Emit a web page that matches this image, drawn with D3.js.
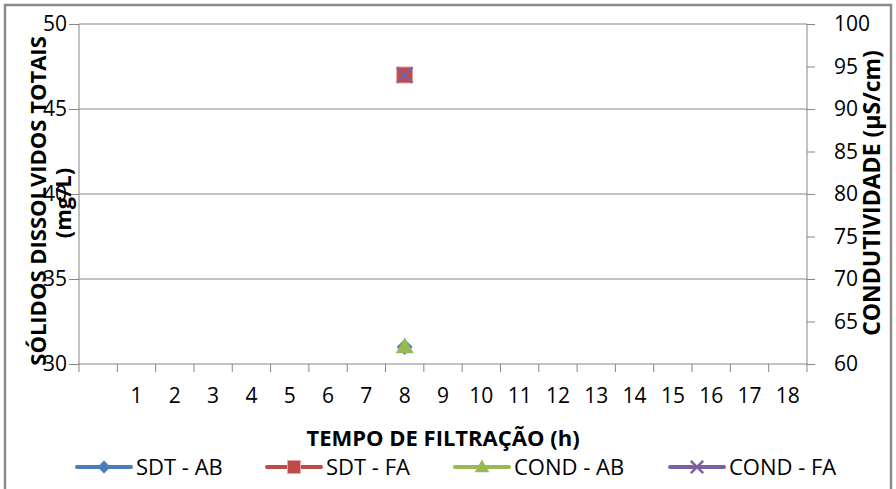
<!DOCTYPE html>
<html>
<head>
<meta charset="utf-8">
<script src="https://cdn.jsdelivr.net/npm/d3@7"></script>
<style>
  body { margin: 0; background: #fff; }
  text { font-family: "Open Sans", "Noto Sans", sans-serif; fill: #000; }
  .bold { font-weight: bold; }
</style>
</head>
<body>
<svg id="chart"></svg>
<script>
const width = 896;
const height = 489;

// hours (first category is blank)
const hours = ["", "1", "2", "3", "4", "5", "6", "7", "8", "9", "10", "11", "12", "13", "14", "15", "16", "17", "18"];

// values per hour, only the 8 h reading exists
const sdtAB  = [null, null, null, null, null, null, null, null, 31, null, null, null, null, null, null, null, null, null, null];
const sdtFA  = [null, null, null, null, null, null, null, null, 47, null, null, null, null, null, null, null, null, null, null];
const condAB = [null, null, null, null, null, null, null, null, 62, null, null, null, null, null, null, null, null, null, null];
const condFA = [null, null, null, null, null, null, null, null, 94, null, null, null, null, null, null, null, null, null, null];

const leftTicks = [30, 35, 40, 45, 50];
const rightTicks = [60, 65, 70, 75, 80, 85, 90, 95, 100];

const seriesNames = ["SDT - AB", "SDT - FA", "COND - AB", "COND - FA"];
const colors = ["#4a7ebb", "#be4b48", "#98b954", "#7d60a0"];

const plot = {left: 79, right: 807, top: 24, bottom: 364};

const svg = d3.select('#chart')
  .attr('width', width)
  .attr('height', height);

// outer chart border
svg.append('rect')
  .attr('x', 5).attr('y', 5)
  .attr('width', 886).attr('height', 495)
  .attr('fill', '#fff')
  .attr('stroke', '#8c8c8c')
  .attr('stroke-width', 2.5);

const xScale = d3.scaleBand()
  .domain(hours)
  .range([plot.left, plot.right]);

const yLeft = d3.scaleLinear()
  .domain([30, 50])
  .range([plot.bottom, plot.top]);

const yRight = d3.scaleLinear()
  .domain([60, 100])
  .range([plot.bottom, plot.top]);

// gridlines
svg.append('g')
  .selectAll('line')
  .data(leftTicks.slice(1))
  .enter()
  .append('line')
  .attr('x1', plot.left).attr('x2', plot.right)
  .attr('y1', d => yLeft(d)).attr('y2', d => yLeft(d))
  .attr('stroke', '#868686');

// left axis
const leftAxis = svg.append('g')
  .attr('transform', `translate(${plot.left}, 0)`)
  .call(d3.axisLeft(yLeft).tickValues(leftTicks).tickSize(10).tickPadding(2));

// right axis
const rightAxis = svg.append('g')
  .attr('transform', `translate(${plot.right}, 0)`)
  .call(d3.axisRight(yRight).tickValues(rightTicks).tickSize(8).tickPadding(19));

// x axis: labels at band centres, ticks between categories
const xAxis = svg.append('g')
  .attr('transform', `translate(0, ${plot.bottom})`)
  .call(d3.axisBottom(xScale).tickSize(0).tickPadding(24));

const edges = hours.map(h => xScale(h)).concat([plot.right]);
xAxis.selectAll('.edge')
  .data(edges)
  .enter()
  .append('line')
  .attr('class', 'edge')
  .attr('x1', d => d).attr('x2', d => d)
  .attr('y1', 0).attr('y2', 8)
  .attr('stroke', '#868686');

[leftAxis, rightAxis, xAxis].forEach(g => {
  g.selectAll('.domain').attr('stroke', '#868686');
  g.selectAll('.tick line').attr('stroke', '#868686');
  g.selectAll('.tick text')
    .style('font-size', '21px')
    .attr('fill', '#000');
});
leftAxis.select('.domain').attr('d', `M0,${plot.top}V${plot.bottom}`);
rightAxis.select('.domain').attr('d', `M0,${plot.top}V${plot.bottom}`);
xAxis.select('.domain').attr('d', `M${plot.left},0H${plot.right}`);

// markers
function markerPath(i, s) {
  if (i == 0) {
    return d3.symbol().type(d3.symbolSquare).size(s * s * 0.5)();
  } else if (i == 1) {
    return d3.symbol().type(d3.symbolSquare).size(s * s)();
  } else if (i == 2) {
    return d3.symbol().type(d3.symbolTriangle).size(s * s * 0.55)();
  } else {
    return d3.symbol().type(d3.symbolX).size(s * s * 0.6)();
  }
}

function drawMarker(g, i, x, y, s) {
  const p = g.append('path')
    .attr('d', markerPath(i, s));
  if (i == 0) {
    p.attr('transform', `translate(${x}, ${y}) rotate(45)`);
  } else if (i == 2) {
    p.attr('transform', `translate(${x}, ${y + 1})`);
  } else {
    p.attr('transform', `translate(${x}, ${y})`);
  }
  if (i == 3) {
    p.attr('fill', 'none').attr('stroke', colors[i]).attr('stroke-width', 2.5);
  } else if (i == 1) {
    p.attr('fill', colors[i]).attr('stroke', '#e9a4a2').attr('stroke-width', 1);
  } else {
    p.attr('fill', colors[i]);
  }
}

const allSeries = [
  {values: sdtAB, scale: yLeft},
  {values: sdtFA, scale: yLeft},
  {values: condAB, scale: yRight},
  {values: condFA, scale: yRight}
];

const markers = svg.append('g');
allSeries.forEach((s, i) => {
  s.values.forEach((v, j) => {
    if (v == null) return;
    const cx = xScale(hours[j]) + xScale.bandwidth() / 2;
    drawMarker(markers, i, cx, s.scale(v), 16);
  });
});

// axis titles
svg.append('text')
  .attr('class', 'bold')
  .attr('transform', 'translate(46, 201) rotate(-90)')
  .attr('text-anchor', 'middle')
  .style('font-size', '22px')
  .text('SÓLIDOS DISSOLVIDOS TOTAIS');

svg.append('text')
  .attr('class', 'bold')
  .attr('transform', 'translate(71, 203) rotate(-90)')
  .attr('text-anchor', 'middle')
  .style('font-size', '22px')
  .text('(mg/L)');

svg.append('text')
  .attr('class', 'bold')
  .attr('transform', 'translate(880, 193) rotate(-90)')
  .attr('text-anchor', 'middle')
  .style('font-size', '23px')
  .text('CONDUTIVIDADE (µS/cm)');

svg.append('text')
  .attr('class', 'bold')
  .attr('x', 443).attr('y', 446)
  .attr('text-anchor', 'middle')
  .style('font-size', '22px')
  .text('TEMPO DE FILTRAÇÃO (h)');

// legend
const legendX = [77, 267, 455, 670];
const legend = svg.append('g');
seriesNames.forEach((name, i) => {
  const x0 = legendX[i];
  legend.append('line')
    .attr('x1', x0).attr('x2', x0 + 54)
    .attr('y1', 467).attr('y2', 467)
    .attr('stroke', colors[i])
    .attr('stroke-width', 4)
    .attr('stroke-linecap', 'round');
  drawMarker(legend, i, x0 + 27, 467, 13);
  legend.append('text')
    .attr('x', x0 + 59).attr('y', 475)
    .style('font-size', '22px')
    .text(name);
});
</script>
</body>
</html>
